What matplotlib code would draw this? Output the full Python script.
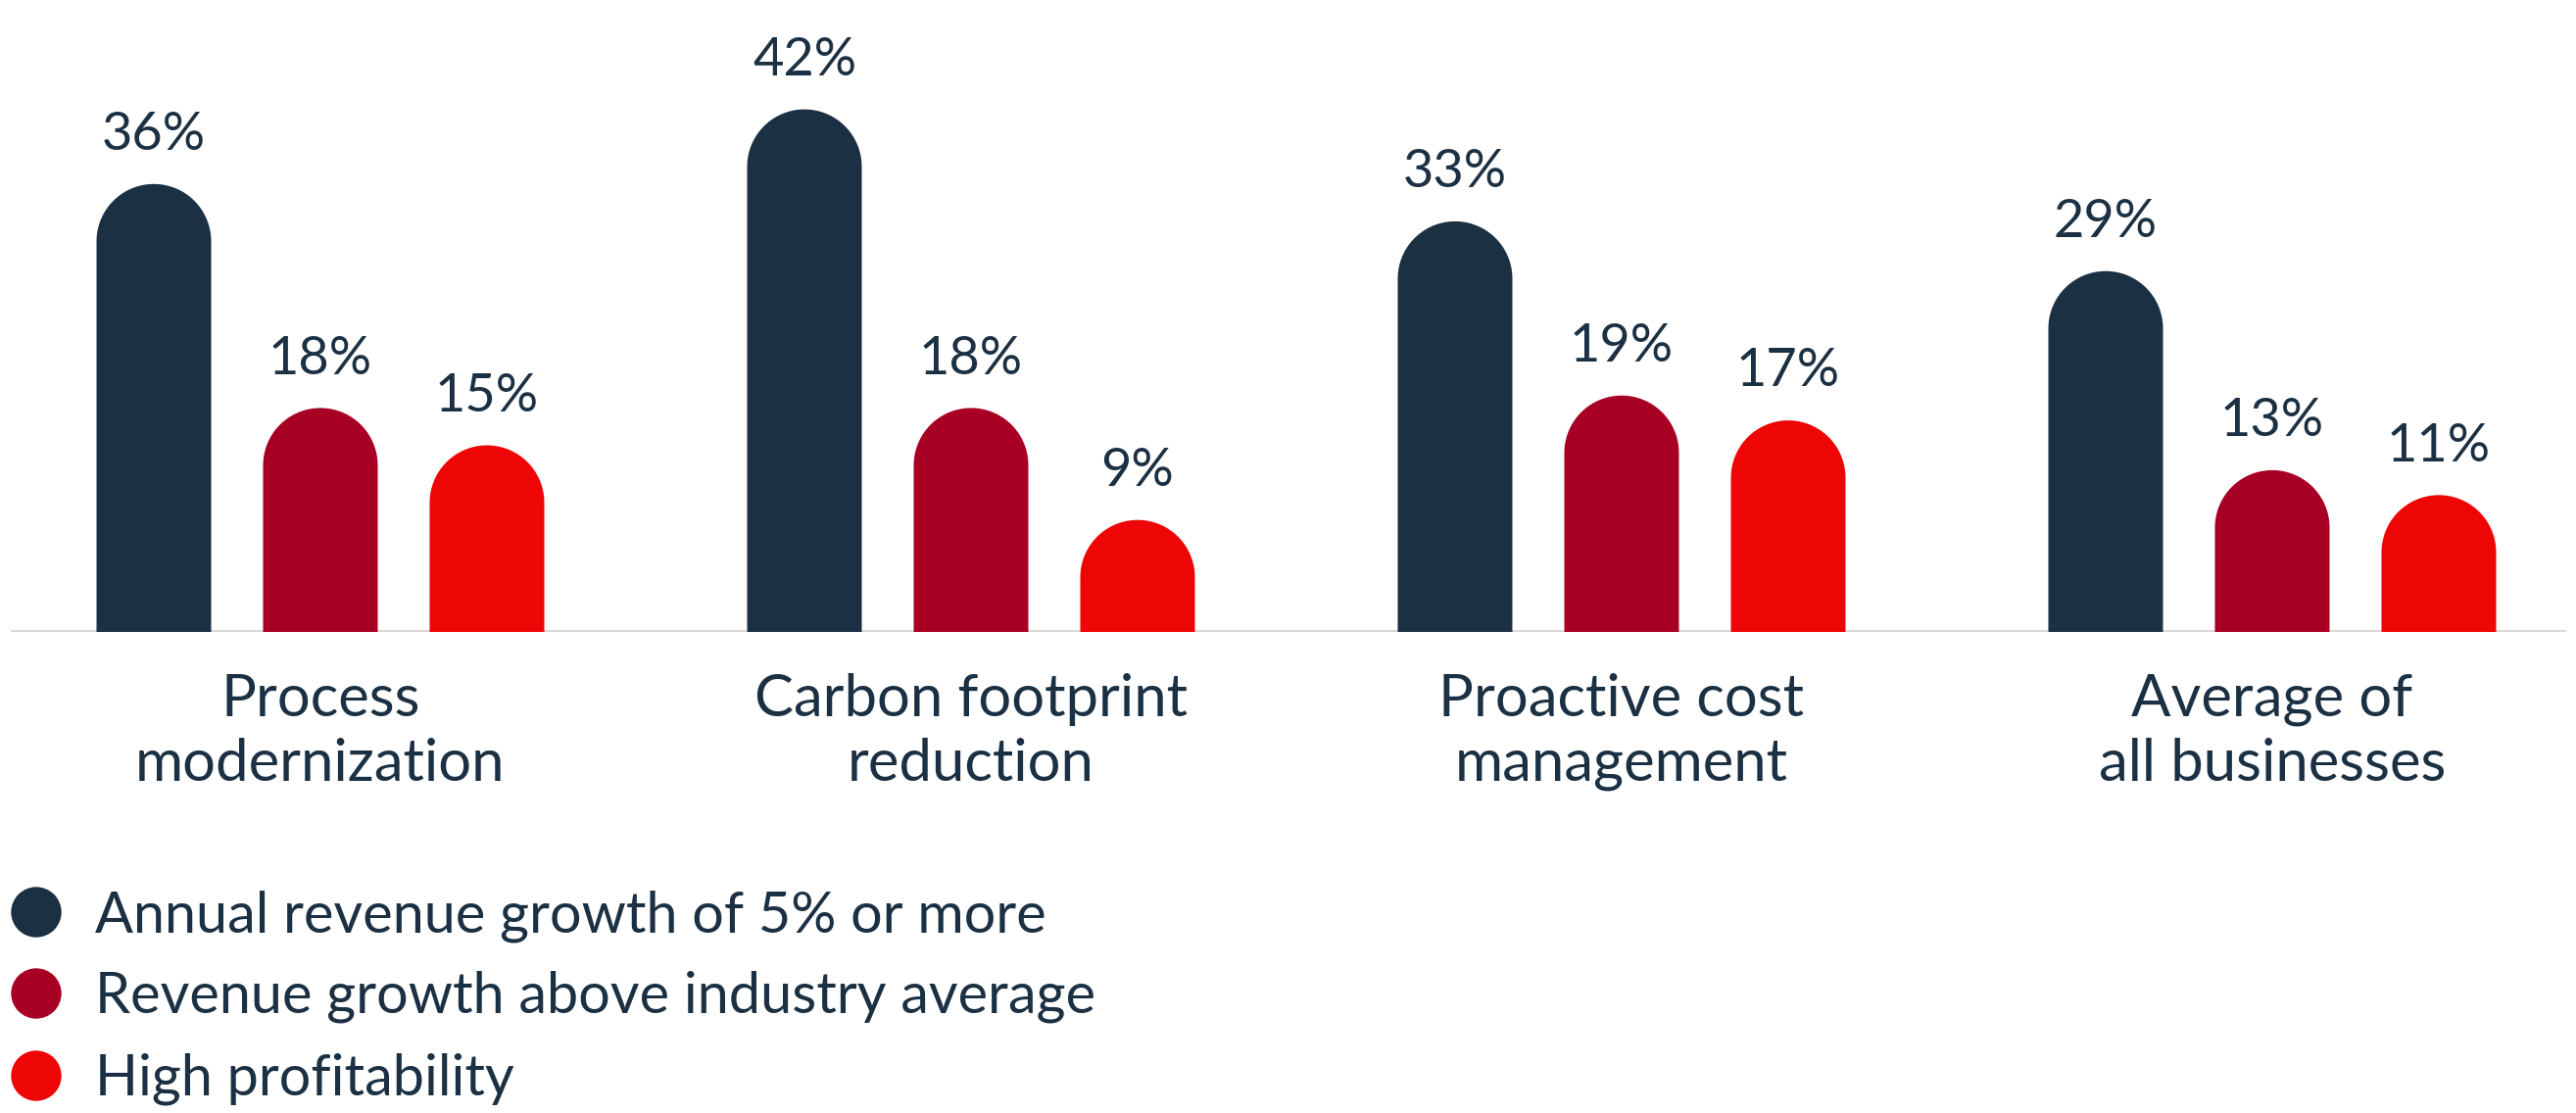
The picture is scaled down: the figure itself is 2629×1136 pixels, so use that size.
import matplotlib
matplotlib.use("Agg")
import matplotlib.pyplot as plt
from matplotlib.patches import Polygon
import numpy as np

plt.rcParams["font.family"] = ["Lato", "DejaVu Sans"]

categories = ["Process\nmodernization", "Carbon footprint\nreduction",
              "Proactive cost\nmanagement", "Average of\nall businesses"]
series_names = ["Annual revenue growth of 5% or more",
                "Revenue growth above industry average",
                "High profitability"]
annual_growth = [36, 42, 33, 29]
above_industry = [18, 18, 19, 13]
high_profit = [15, 9, 17, 11]

colors = ["#1B3042", "#A80024", "#EE0505"]
text_color = "#1B3042"
axis_color = "#DED6D1"

W, H, DPI = 2629, 1136, 100
fig = plt.figure(figsize=(W / DPI, H / DPI), dpi=DPI)
fig.patch.set_facecolor("white")

# axes geometry in pixels (baseline 645 px from top, 12.7 px per percent)
base_px = 491
px_per_pct = 12.7
ymax = 50
group_px = 664
first_center_px = 327
ax = fig.add_axes([0, base_px / H, 1, ymax * px_per_pct / H])
ax.set_xlim(-first_center_px / group_px, (W - first_center_px) / group_px)
ax.set_ylim(0, ymax)
ax.axis("off")

offset = 170 / group_px
width = 117 / group_px
r_y = (width * group_px / 2) / px_per_pct  # cap radius in y units
t = np.linspace(0, np.pi, 60)


def rounded_bar(xc, v, color):
    # rectangle with a semicircular top, total height = v
    cx = xc + width / 2 * np.cos(t)
    cy = (v - r_y) + r_y * np.sin(t)
    verts = np.column_stack([
        np.r_[xc + width / 2, cx, xc - width / 2],
        np.r_[0, cy, 0],
    ])
    ax.add_patch(Polygon(verts, closed=True, facecolor=color,
                         edgecolor="none", zorder=3))


x = np.arange(len(categories))
series = [annual_growth, above_industry, high_profit]
for k, (vals, col) in enumerate(zip(series, colors)):
    for xi, v in zip(x + (k - 1) * offset, vals):
        rounded_bar(xi, v, col)
        ax.annotate(f"{v}%", (xi, v), xytext=(0, 25), textcoords="offset points",
                    ha="center", va="baseline", fontsize=39, color=text_color)

ax.axhline(0, xmin=13 / W, xmax=2616 / W, color=axis_color, lw=3.5, zorder=1)

for xi, cat in zip(x, categories):
    ax.annotate(cat, (xi, 0), xytext=(0, -30), textcoords="offset points",
                ha="center", va="top", fontsize=43, color=text_color,
                linespacing=1.28)

# legend drawn in pixel coordinates
lax = fig.add_axes([0, 0, 1, 1])
lax.set_xlim(0, W)
lax.set_ylim(H, 0)
lax.axis("off")
leg_y = [931, 1014, 1098]
for yy, name, col in zip(leg_y, series_names, colors):
    lax.scatter([37], [yy], s=37 ** 2, color=col, edgecolor="none")
    lax.text(97, yy + 20, name, ha="left", va="baseline", fontsize=41.5,
             color=text_color)

fig.savefig("out.png", dpi=DPI)
